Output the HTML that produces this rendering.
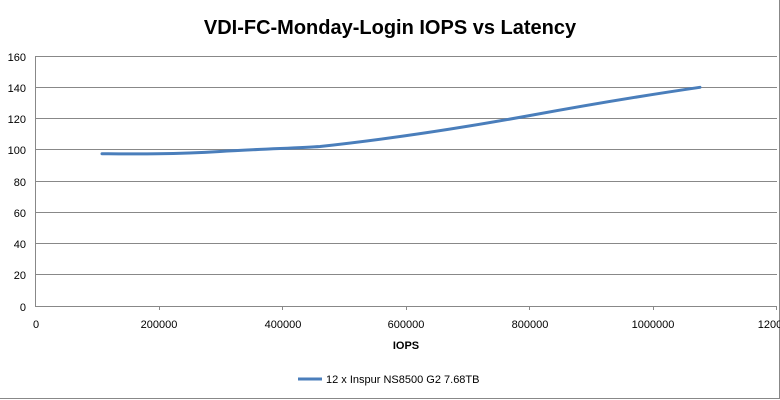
<!DOCTYPE html>
<html><head><style>
body{margin:0;background:#fff}
svg{display:block;font-family:"Liberation Sans",sans-serif}
</style></head><body>
<svg width="780" height="400" viewBox="0 0 780 400">
<line x1="0" y1="398.5" x2="780" y2="398.5" stroke="#888"/>
<line x1="779.5" y1="0" x2="779.5" y2="399" stroke="#888"/>
<text x="390" y="34" text-anchor="middle" font-size="20" font-weight="bold" fill="#000">VDI-FC-Monday-Login IOPS vs Latency</text>
<g stroke="#888" stroke-width="1">
<line x1="35" y1="56.5" x2="777" y2="56.5"/>
<line x1="35" y1="87.5" x2="777" y2="87.5"/>
<line x1="35" y1="118.5" x2="777" y2="118.5"/>
<line x1="35" y1="149.5" x2="777" y2="149.5"/>
<line x1="35" y1="181.5" x2="777" y2="181.5"/>
<line x1="35" y1="212.5" x2="777" y2="212.5"/>
<line x1="35" y1="243.5" x2="777" y2="243.5"/>
<line x1="35" y1="274.5" x2="777" y2="274.5"/>
<line x1="35" y1="306.5" x2="777" y2="306.5"/>
<line x1="35.5" y1="56" x2="35.5" y2="306"/>
<line x1="159.5" y1="306" x2="159.5" y2="310"/>
<line x1="282.5" y1="306" x2="282.5" y2="310"/>
<line x1="406.5" y1="306" x2="406.5" y2="310"/>
<line x1="529.5" y1="306" x2="529.5" y2="310"/>
<line x1="653.5" y1="306" x2="653.5" y2="310"/>
<line x1="776.5" y1="306" x2="776.5" y2="310"/>
</g>
<g font-size="11" fill="#000" text-anchor="end">
<text x="26" y="61">160</text><text x="26" y="92">140</text><text x="26" y="123">120</text>
<text x="26" y="154">100</text><text x="26" y="186">80</text><text x="26" y="217">60</text>
<text x="26" y="248">40</text><text x="26" y="279">20</text><text x="26" y="311">0</text>
</g>
<g font-size="11" fill="#000" text-anchor="middle">
<text x="36" y="328">0</text><text x="159" y="328">200000</text><text x="283" y="328">400000</text>
<text x="406" y="328">600000</text><text x="530" y="328">800000</text><text x="653" y="328">1000000</text>
<text x="770" y="328">1200</text>
</g>
<text x="406" y="349" text-anchor="middle" font-size="11" font-weight="bold">IOPS</text>
<path d="M102,153.7 C130,153.9 170,154.5 220,151.5 C260,149 300,148 320,146.5 C380,140 450,130 530,115.5 C590,104.5 640,96 700,87.3" fill="none" stroke="#4a7ebb" stroke-width="3" stroke-linecap="round"/>
<line x1="298" y1="379" x2="322" y2="379" stroke="#4a7ebb" stroke-width="3"/>
<text x="326" y="383" font-size="11">12 x Inspur NS8500 G2 7.68TB</text>
</svg>
</body></html>
